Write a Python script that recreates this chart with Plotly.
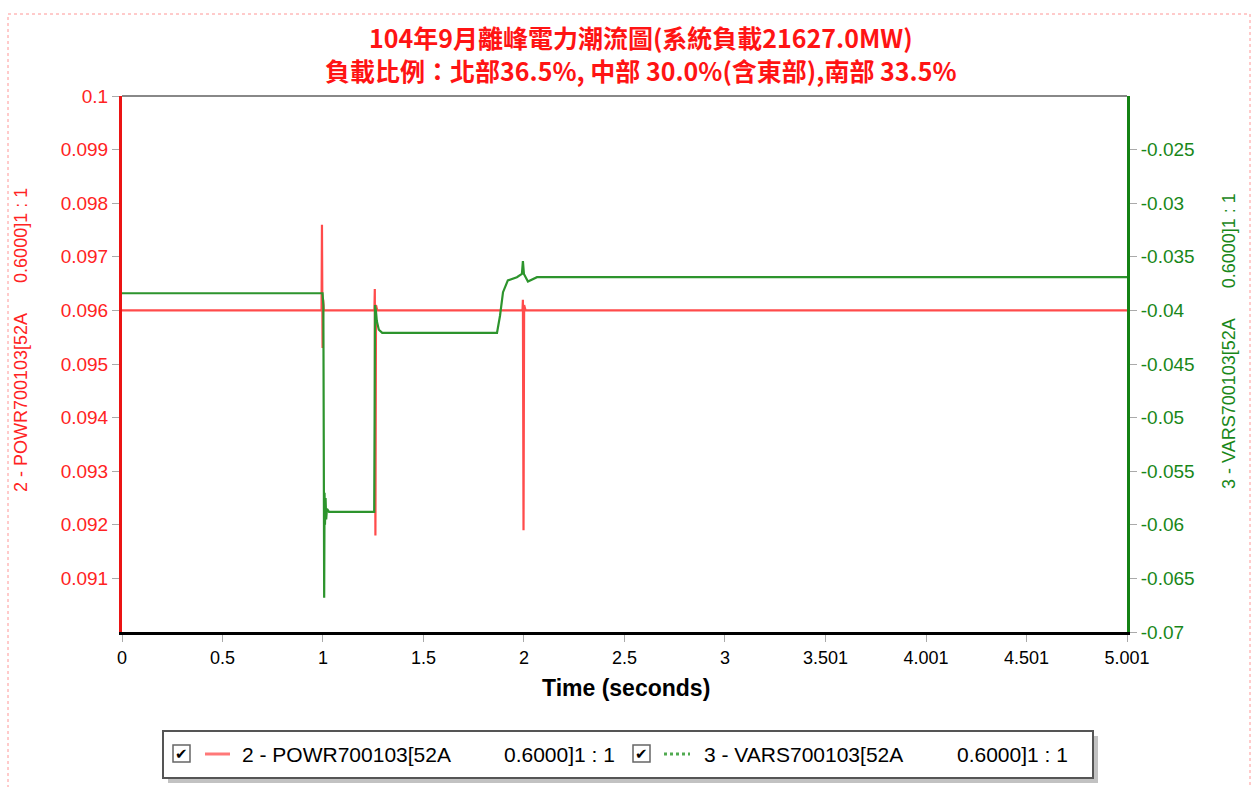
import plotly.graph_objects as go

# ---- data ----
powr_t = [0, 0.993, 0.995, 0.998, 1.001, 1.004, 1.010, 1.256, 1.258, 1.261, 1.264, 1.270,
          1.993, 1.995, 1.998, 2.001, 2.008, 5.001]
powr_v = [0.0960, 0.0960, 0.0976, 0.0953, 0.0962, 0.0960, 0.0960, 0.0960, 0.0964, 0.0918, 0.0961, 0.0960,
          0.0960, 0.0962, 0.0919, 0.0961, 0.0960, 0.0960]

vars_t = [0, 0.998, 1.000, 1.002, 1.004, 1.006, 1.008, 1.010, 1.013, 1.016, 1.020, 1.030,
          1.255, 1.257, 1.259, 1.263, 1.268, 1.278, 1.295, 1.866, 1.872, 1.881, 1.896, 1.920,
          1.965, 1.990, 1.995, 2.000, 2.020, 2.040, 2.065, 5.001]
vars_v = [-0.0384, -0.0384, -0.0390, -0.0395, -0.0520, -0.0668, -0.0570, -0.0600, -0.0575, -0.0595, -0.0585, -0.0588,
          -0.0588, -0.0500, -0.0395, -0.0400, -0.0410, -0.0418, -0.0421, -0.0421, -0.0415, -0.0405, -0.0383, -0.0372,
          -0.0369, -0.0366, -0.0354, -0.0366, -0.0373, -0.0371, -0.0369, -0.0369]

x_ticks = [0, 0.5, 1, 1.5, 2, 2.5, 3, 3.501, 4.001, 4.501, 5.001]
x_labels = ["0", "0.5", "1", "1.5", "2", "2.5", "3", "3.501", "4.001", "4.501", "5.001"]
y1_ticks = [0.091, 0.092, 0.093, 0.094, 0.095, 0.096, 0.097, 0.098, 0.099, 0.1]
y1_labels = ["0.091", "0.092", "0.093", "0.094", "0.095", "0.096", "0.097", "0.098", "0.099", "0.1"]
y2_ticks = [-0.07, -0.065, -0.06, -0.055, -0.05, -0.045, -0.04, -0.035, -0.03, -0.025]
y2_labels = ["-0.07", "-0.065", "-0.06", "-0.055", "-0.05", "-0.045", "-0.04", "-0.035", "-0.03", "-0.025"]

title1 = "104年9月離峰電力潮流圖(系統負載21627.0MW)"
title2 = "負載比例：北部36.5%, 中部 30.0%(含東部),南部 33.5%"
name1 = "2 - POWR700103[52A"
name2 = "3 - VARS700103[52A"
suffix = "0.6000]1 : 1"

RED = "rgb(255,75,75)"
GREEN = "rgb(45,148,45)"
RED_TXT = "rgb(255,35,35)"
GREEN_TXT = "rgb(25,135,25)"
ARIAL = "Liberation Sans, Arial"

# ---- layout geometry (pixels) ----
W, H = 1256, 787
L, R, T, B = 122, 1127, 96, 632

def px(x):
    return (x - L) / (R - L)

def py(y):
    return (B - y) / (B - T)

fig = go.Figure()
fig.add_trace(go.Scatter(x=powr_t, y=powr_v, mode="lines", line=dict(color=RED, width=2.2),
                         showlegend=False, yaxis="y"))
fig.add_trace(go.Scatter(x=vars_t, y=vars_v, mode="lines", line=dict(color=GREEN, width=2.2),
                         showlegend=False, yaxis="y2"))

fig.update_layout(
    width=W, height=H,
    margin=dict(l=L, r=W - R, t=T, b=H - B),
    paper_bgcolor="white", plot_bgcolor="white",
    showlegend=False,
    xaxis=dict(range=[0, 5.001], tickvals=x_ticks, ticktext=x_labels, showgrid=False, zeroline=False,
               showline=True, linecolor="black", linewidth=3, ticks="outside", ticklen=7, tickcolor="#aaa",
               tickfont=dict(family=ARIAL, size=18, color="black")),
    yaxis=dict(range=[0.09, 0.1], tickvals=y1_ticks, ticktext=y1_labels, showgrid=False, zeroline=False,
               showline=True, linecolor="rgb(235,20,20)", linewidth=3, ticks="outside", ticklen=7, tickcolor="#aaa",
               tickfont=dict(family=ARIAL, size=19, color=RED_TXT)),
    yaxis2=dict(range=[-0.07, -0.02], tickvals=y2_ticks, ticktext=y2_labels, overlaying="y", side="right",
                showgrid=False, zeroline=False, showline=True, linecolor="rgb(20,130,20)", linewidth=3,
                ticks="outside", ticklen=7, tickcolor="#aaa",
                tickfont=dict(family=ARIAL, size=19, color=GREEN_TXT)),
)

shapes = []
# top border of plot
shapes.append(dict(type="line", xref="paper", yref="paper", x0=0, x1=1, y0=1, y1=1,
                   line=dict(color="#888", width=2)))
# dashed outer frame
shapes.append(dict(type="rect", xref="paper", yref="paper", x0=px(8), x1=px(1250), y0=py(14), y1=py(800),
                   line=dict(color="rgb(255,150,150)", width=1, dash="dot")))
# legend shadow and box
shapes.append(dict(type="rect", xref="paper", yref="paper", x0=px(168), x1=px(1098), y0=py(736), y1=py(783),
                   line=dict(width=0), fillcolor="rgba(120,120,120,0.45)"))
shapes.append(dict(type="rect", xref="paper", yref="paper", x0=px(163), x1=px(1093), y0=py(731), y1=py(778),
                   line=dict(color="#555", width=2), fillcolor="white"))
# checkboxes
for cx in (173, 633):
    shapes.append(dict(type="rect", xref="paper", yref="paper", x0=px(cx), x1=px(cx + 17), y0=py(745), y1=py(762),
                       line=dict(color="#666", width=1.5), fillcolor="white"))
# legend line symbols
shapes.append(dict(type="line", xref="paper", yref="paper", x0=px(205), x1=px(230), y0=py(754), y1=py(754),
                   line=dict(color="rgb(255,120,120)", width=3)))
shapes.append(dict(type="line", xref="paper", yref="paper", x0=px(664), x1=px(690), y0=py(754), y1=py(754),
                   line=dict(color="rgb(80,170,80)", width=3, dash="dot")))

ann = []
tf = dict(family="Noto Sans CJK TC", size=25, color="rgb(255,20,20)")
ann.append(dict(text="<b>" + title1 + "</b><br><b>" + title2 + "</b>", xref="paper", yref="paper",
                x=px(641), y=py(54), showarrow=False, xanchor="center", yanchor="middle",
                align="center", font=tf))
# x axis title
ann.append(dict(text="<b>Time (seconds)</b>", xref="paper", yref="paper", x=px(626), y=py(688),
                showarrow=False, xanchor="center", yanchor="middle",
                font=dict(family=ARIAL, size=23, color="black")))
# y axis titles (rotated)
gap = "\u00a0" * 6
ann.append(dict(text=name1 + gap + suffix, xref="paper", yref="paper", x=px(21), y=py(340),
                textangle=-90, showarrow=False, xanchor="center", yanchor="middle",
                font=dict(family=ARIAL, size=18, color=RED_TXT)))
ann.append(dict(text=name2 + gap + suffix, xref="paper", yref="paper", x=px(1229), y=py(341),
                textangle=-90, showarrow=False, xanchor="center", yanchor="middle",
                font=dict(family=ARIAL, size=18, color=GREEN_TXT)))
# legend content
lf = dict(family=ARIAL, size=21, color="black")
for cx in (173, 633):
    ann.append(dict(text="✔", xref="paper", yref="paper", x=px(cx + 8.5), y=py(754), showarrow=False,
                    xanchor="center", yanchor="middle", font=dict(family="DejaVu Sans", size=15, color="black")))
ann.append(dict(text=name1, xref="paper", yref="paper", x=px(240), y=py(754), showarrow=False,
                xanchor="left", yanchor="middle", font=lf))
ann.append(dict(text=suffix, xref="paper", yref="paper", x=px(502), y=py(754), showarrow=False,
                xanchor="left", yanchor="middle", font=lf))
ann.append(dict(text=name2, xref="paper", yref="paper", x=px(702), y=py(754), showarrow=False,
                xanchor="left", yanchor="middle", font=lf))
ann.append(dict(text=suffix, xref="paper", yref="paper", x=px(955), y=py(754), showarrow=False,
                xanchor="left", yanchor="middle", font=lf))

fig.update_layout(shapes=shapes, annotations=ann)
fig.write_html("out.html")
